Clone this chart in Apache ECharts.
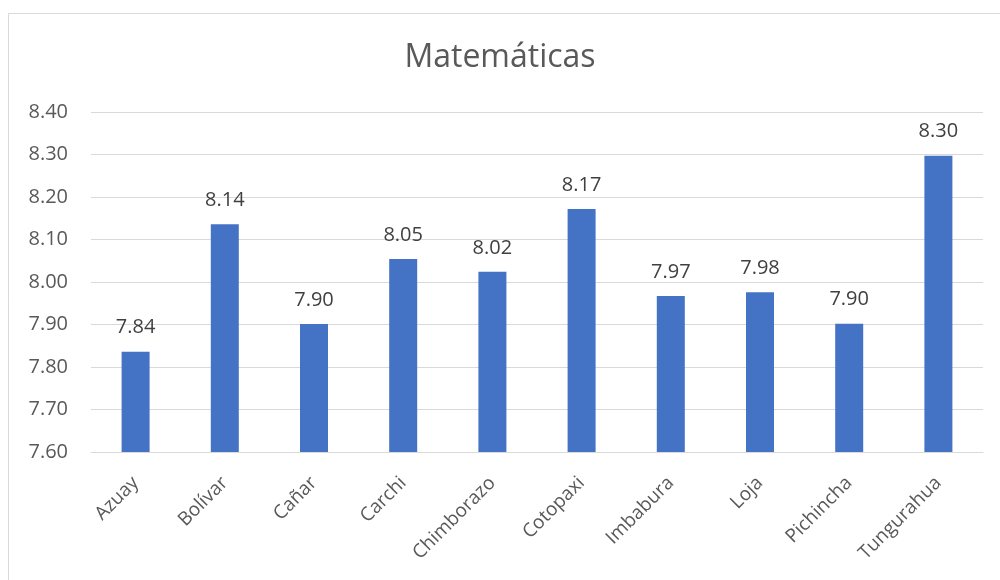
<!DOCTYPE html>
<html>
<head>
<meta charset="utf-8">
<script src="https://cdn.jsdelivr.net/npm/echarts@6/dist/echarts.min.js"></script>
<style>html,body{margin:0;padding:0;background:#fff;}#c{width:1000px;height:580px;}</style>
</head>
<body>
<div id="c"></div>
<script>
const categories = ['Azuay','Bolívar','Cañar','Carchi','Chimborazo','Cotopaxi','Imbabura','Loja','Pichincha','Tungurahua'];
const values = [7.836, 8.136, 7.901, 8.054, 8.024, 8.172, 7.967, 7.976, 7.902, 8.297];
const titleText = 'Matemáticas';

const chart = echarts.init(document.getElementById('c'));
chart.setOption({
  animation: false,
  textStyle: { fontFamily: 'Open Sans, Noto Sans, sans-serif' },
  graphic: [{
    type: 'rect', shape: { x: 8.5, y: 13.5, width: 1100, height: 700 },
    style: { fill: 'none', stroke: '#d9d9d9', lineWidth: 1 }, silent: true, z: -1
  }],
  title: {
    text: titleText, left: 'center', top: 37,
    textStyle: { fontSize: 32, fontWeight: 'normal', color: '#595959', fontFamily: 'Open Sans, Noto Sans, sans-serif' }
  },
  grid: { left: 91, right: 17, top: 112, bottom: 128, containLabel: false },
  xAxis: {
    type: 'category', data: categories,
    axisLine: { lineStyle: { color: '#d9d9d9', width: 1 } },
    axisTick: { show: false },
    axisLabel: { rotate: 45, fontSize: 19, color: '#595959', margin: 28, interval: 0 }
  },
  yAxis: {
    type: 'value', min: 7.6, max: 8.4, interval: 0.1,
    axisLine: { show: false }, axisTick: { show: false },
    splitLine: { lineStyle: { color: '#d9d9d9', width: 1 } },
    axisLabel: { fontSize: 20, color: '#595959', margin: 23, formatter: v => v.toFixed(2) }
  },
  series: [{
    type: 'bar', data: values, barWidth: 28,
    itemStyle: { color: '#4472C4' },
    label: { show: true, position: 'top', distance: 14, fontSize: 20, color: '#404040', formatter: p => p.value.toFixed(2) }
  }]
});
</script>
</body>
</html>
